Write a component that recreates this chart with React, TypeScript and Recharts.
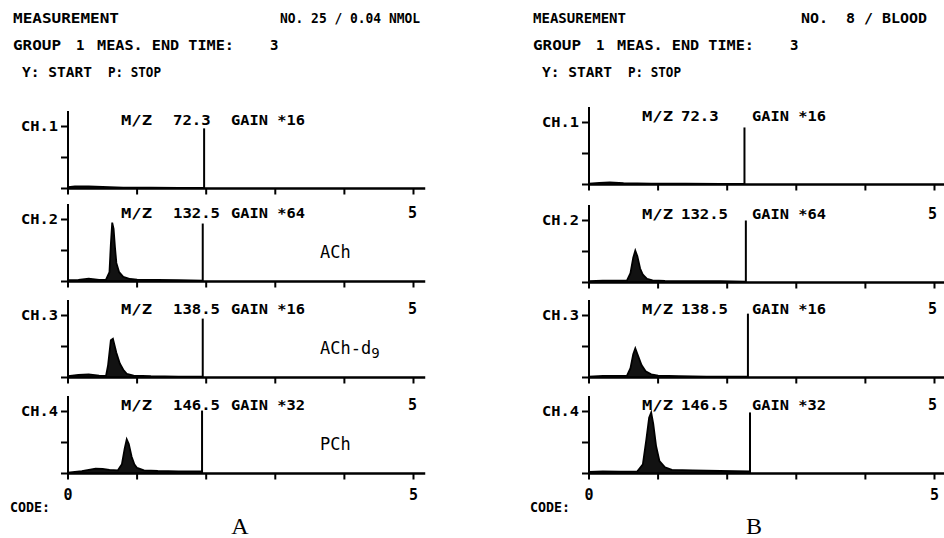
import React from "react";
import { ComposedChart, Area, XAxis, YAxis, ReferenceLine } from "recharts";

const channelNames = ["CH.1", "CH.2", "CH.3", "CH.4"];
const mzValues = ["72.3", "132.5", "138.5", "146.5"];
const gains = ["*16", "*64", "*16", "*32"];
const compoundsA = ["", "ACh", "ACh-d", "PCh"];
const xTicks = [0, 1, 2, 3, 4, 5];
const yTicks = [0, 1, 2];

// A: standard, 0.04 nmol
const aCh1Time = [0, 0.1, 0.3, 0.5, 0.8, 1.2, 1.6, 1.97];
const aCh1Signal = [0.04, 0.07, 0.07, 0.05, 0.03, 0.03, 0.02, 0.02];
const aCh2Time = [0, 0.15, 0.3, 0.45, 0.55, 0.6, 0.62, 0.64, 0.66, 0.68, 0.7, 0.74, 0.8, 0.9, 1.0, 1.3, 1.6, 1.95];
const aCh2Signal = [0.04, 0.05, 0.09, 0.05, 0.06, 0.3, 1.2, 1.9, 1.7, 1.1, 0.6, 0.3, 0.15, 0.08, 0.06, 0.05, 0.04, 0.03];
const aCh3Time = [0, 0.15, 0.3, 0.45, 0.55, 0.58, 0.62, 0.65, 0.7, 0.75, 0.8, 0.85, 0.95, 1.2, 1.6, 1.95];
const aCh3Signal = [0.04, 0.08, 0.1, 0.06, 0.05, 0.4, 1.2, 1.25, 0.8, 0.45, 0.25, 0.12, 0.06, 0.04, 0.03, 0.03];
const aCh4Time = [0, 0.2, 0.4, 0.5, 0.6, 0.72, 0.78, 0.82, 0.85, 0.88, 0.92, 0.96, 1.0, 1.1, 1.3, 1.6, 1.94];
const aCh4Signal = [0.03, 0.08, 0.16, 0.15, 0.12, 0.1, 0.3, 0.8, 1.1, 0.95, 0.55, 0.3, 0.18, 0.1, 0.08, 0.07, 0.07];
const aStop = [1.97, 1.95, 1.95, 1.94];
const aStopHeight = [1.94, 1.87, 1.9, 2.03];

// B: blood
const bCh1Time = [0, 0.15, 0.3, 0.5, 0.9, 1.4, 1.9, 2.25];
const bCh1Signal = [0.03, 0.05, 0.07, 0.04, 0.03, 0.03, 0.02, 0.02];
const bCh2Time = [0, 0.2, 0.4, 0.55, 0.6, 0.64, 0.67, 0.7, 0.74, 0.78, 0.84, 0.92, 1.1, 1.5, 1.9, 2.27];
const bCh2Signal = [0.04, 0.06, 0.06, 0.07, 0.3, 0.8, 1.03, 0.85, 0.45, 0.25, 0.12, 0.07, 0.05, 0.04, 0.04, 0.03];
const bCh3Time = [0, 0.2, 0.4, 0.55, 0.6, 0.64, 0.67, 0.71, 0.76, 0.82, 0.9, 1.0, 1.3, 1.7, 2.3];
const bCh3Signal = [0.03, 0.05, 0.05, 0.06, 0.3, 0.75, 0.94, 0.7, 0.4, 0.2, 0.1, 0.06, 0.04, 0.03, 0.03];
const bCh4Time = [0, 0.2, 0.45, 0.7, 0.78, 0.83, 0.87, 0.9, 0.93, 0.97, 1.02, 1.1, 1.2, 1.5, 1.9, 2.33];
const bCh4Signal = [0.05, 0.07, 0.06, 0.07, 0.3, 1.1, 1.8, 1.97, 1.6, 0.9, 0.4, 0.2, 0.12, 0.1, 0.08, 0.07];
const bStop = [2.25, 2.27, 2.3, 2.33];
const bStopHeight = [1.84, 2.0, 2.06, 1.97];

const aTimes = [aCh1Time, aCh2Time, aCh3Time, aCh4Time];
const aSignals = [aCh1Signal, aCh2Signal, aCh3Signal, aCh4Signal];
const bTimes = [bCh1Time, bCh2Time, bCh3Time, bCh4Time];
const bSignals = [bCh1Signal, bCh2Signal, bCh3Signal, bCh4Signal];

const MONO = "'DejaVu Sans Mono', monospace";
const UX = 69.1;
const UY = 31;
const X_MAX = 5.17;
const Y_MAX = 2.5;
const PLOT_W = UX * X_MAX;
const PLOT_H = UY * Y_MAX;
const YAXIS_W = 60;
const MT = 4;
const MR = 12;
const XAXIS_H = 34;

const aAxisX = 68;
const bAxisX = 589;
const aBaselines = [188, 281, 377, 473];
const bBaselines = [184, 282, 377, 473];

type ChannelProps = {
  time: number[];
  signal: number[];
  stop: number;
  stopHeight: number;
  name: string;
  axisX: number;
  baseline: number;
  showEnds: boolean;
};

function Channel({ time, signal, stop, stopHeight, name, axisX, baseline, showEnds }: ChannelProps) {
  const data = time.map((t, i) => ({ t, v: signal[i] }));
  const chTick = (p: any) =>
    p.payload.value === 2 ? (
      <text
        x={p.x}
        y={p.y}
        textAnchor="end"
        dominantBaseline="central"
        fontSize={14}
        fontFamily={MONO}
        fontWeight={700}
        fill="#000"
        textLength={37}
        lengthAdjust="spacingAndGlyphs"
      >
        {name}
      </text>
    ) : (
      <g />
    );
  return (
    <div style={{ position: "absolute", left: axisX - YAXIS_W, top: baseline - PLOT_H - MT }}>
      <ComposedChart
        width={YAXIS_W + PLOT_W + MR}
        height={MT + PLOT_H + XAXIS_H}
        data={data}
        margin={{ top: MT, right: MR, bottom: 0, left: 0 }}
      >
        <XAxis
          type="number"
          dataKey="t"
          domain={[0, X_MAX]}
          ticks={xTicks}
          interval={0}
          allowDataOverflow
          height={XAXIS_H}
          tickSize={6}
          tickMargin={10}
          axisLine={{ stroke: "#000", strokeWidth: 2.5 }}
          tickLine={{ stroke: "#000", strokeWidth: 2 }}
          tick={{ fill: "#000", fontSize: 15, fontFamily: MONO, fontWeight: 700 }}
          tickFormatter={(v: number) => (showEnds && (v === 0 || v === 5) ? String(v) : "")}
        />
        <YAxis
          type="number"
          domain={[0, Y_MAX]}
          ticks={yTicks}
          interval={0}
          allowDataOverflow
          width={YAXIS_W}
          tickSize={7}
          tickMargin={3}
          axisLine={{ stroke: "#000", strokeWidth: 2 }}
          tickLine={{ stroke: "#000", strokeWidth: 2 }}
          tick={chTick}
        />
        <Area
          type="linear"
          dataKey="v"
          stroke="#000"
          strokeWidth={1.8}
          fill="#000"
          fillOpacity={0.93}
          baseValue={0}
          dot={false}
          activeDot={false}
          isAnimationActive={false}
        />
        <ReferenceLine
          segment={[{ x: stop, y: 0 }, { x: stop, y: stopHeight }]}
          stroke="#000"
          strokeWidth={2}
          ifOverflow="visible"
        />
      </ComposedChart>
    </div>
  );
}

type TxtProps = {
  x: number;
  y: number;
  w?: number;
  size?: number;
  children: React.ReactNode;
};

function Txt({ x, y, w, size = 14, children }: TxtProps) {
  return (
    <text
      x={x}
      y={y}
      dominantBaseline="central"
      fontSize={size}
      fontFamily={MONO}
      fontWeight={700}
      fill="#000"
      textLength={w}
      lengthAdjust={w ? "spacingAndGlyphs" : undefined}
      style={{ whiteSpace: "pre" }}
    >
      {children}
    </text>
  );
}

type PanelTextProps = {
  dx: number;
  letter: string;
  letterX: number;
  no: string;
  noX: number;
  noW: number;
  measW: number;
  mzX: number[];
  baselines: number[];
  compounds: string[];
};

function PanelText({ dx, letter, letterX, no, noX, noW, measW, mzX, baselines, compounds }: PanelTextProps) {
  return (
    <g>
      <Txt x={dx + 13} y={18} w={measW}>MEASUREMENT</Txt>
      <Txt x={noX} y={18} w={noW}>{no}</Txt>
      <Txt x={dx + 13} y={45} w={48}>GROUP</Txt>
      <Txt x={dx + 76} y={45}>1</Txt>
      <Txt x={dx + 97} y={45} w={137}>MEAS. END TIME:</Txt>
      <Txt x={dx + 270} y={45}>3</Txt>
      <Txt x={dx + 22} y={72} w={70}>Y: START</Txt>
      <Txt x={dx + 108} y={72} w={53}>P: STOP</Txt>
      {baselines.map((b, i) => (
        <g key={i}>
          <Txt x={mzX[0]} y={b - 68} w={31}>M/Z</Txt>
          <Txt x={mzX[1]} y={b - 68} w={mzValues[i].length * 9.4}>{mzValues[i]}</Txt>
          <Txt x={mzX[2]} y={b - 68} w={74}>{"GAIN " + gains[i]}</Txt>
          {i > 0 && <Txt x={dx + 408} y={b - 68} size={15}>5</Txt>}
        </g>
      ))}
      {compounds.map((c, i) =>
        c ? (
          <text key={c} x={dx + 320} y={baselines[i] - 29} dominantBaseline="central" fontSize={17} fontFamily={MONO} fill="#000">
            {c}
            {c === "ACh-d" && (
              <tspan fontSize={14} dy={5}>9</tspan>
            )}
          </text>
        ) : null
      )}
      <Txt x={dx + 10} y={507} w={40}>CODE:</Txt>
      <text x={letterX} y={526} dominantBaseline="central" textAnchor="middle" fontSize={24} fontFamily="'Liberation Serif', serif" fill="#000">
        {letter}
      </text>
    </g>
  );
}

export default function App() {
  return (
    <div style={{ position: "absolute", left: 0, top: 0, width: 944, height: 538, background: "#fff", overflow: "hidden" }}>
      {channelNames.map((n, i) => (
        <Channel
          key={"a" + i}
          time={aTimes[i]}
          signal={aSignals[i]}
          stop={aStop[i]}
          stopHeight={aStopHeight[i]}
          name={n}
          axisX={aAxisX}
          baseline={aBaselines[i]}
          showEnds={i === 3}
        />
      ))}
      {channelNames.map((n, i) => (
        <Channel
          key={"b" + i}
          time={bTimes[i]}
          signal={bSignals[i]}
          stop={bStop[i]}
          stopHeight={bStopHeight[i]}
          name={n}
          axisX={bAxisX}
          baseline={bBaselines[i]}
          showEnds={i === 3}
        />
      ))}
      <svg width={944} height={538} style={{ position: "absolute", left: 0, top: 0, pointerEvents: "none" }}>
        <PanelText
          dx={0}
          letter="A"
          letterX={240}
          no="NO. 25 / 0.04 NMOL"
          noX={280}
          noW={140}
          measW={106}
          mzX={[121, 173, 231]}
          baselines={aBaselines}
          compounds={compoundsA}
        />
        <PanelText
          dx={520}
          letter="B"
          letterX={754}
          no="NO.  8 / BLOOD"
          noX={801}
          noW={126}
          measW={93}
          mzX={[642, 681, 752]}
          baselines={bBaselines}
          compounds={["", "", "", ""]}
        />
      </svg>
    </div>
  );
}
